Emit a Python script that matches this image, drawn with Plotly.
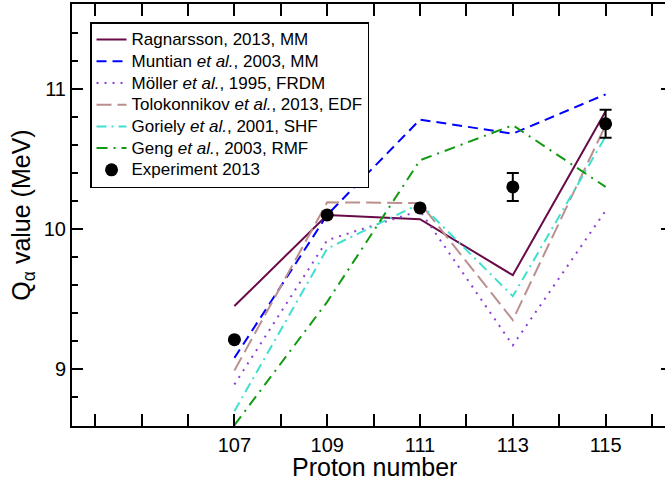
import plotly.graph_objects as go

protons = [107, 109, 111, 113, 115]
ragnarsson = [9.45, 10.10, 10.07, 9.67, 10.84]
muntian = [9.08, 10.10, 10.78, 10.68, 10.96]
moller = [8.89, 9.92, 10.13, 9.17, 10.13]
tolokonnikov = [8.99, 10.19, 10.185, 9.35, 10.74]
goriely = [8.70, 9.86, 10.18, 9.52, 10.66]
geng = [8.60, 9.48, 10.49, 10.74, 10.30]
experiment = [9.21, 10.10, 10.15, 10.30, 10.75]
experiment_err = [0, 0, 0, 0.10, 0.10]

x_major = [107, 109, 111, 113, 115]
x_minor = [104, 105, 106, 108, 110, 112, 114, 116]

FONT = "Arial, Liberation Sans, sans-serif"
LEG_SPAN = '<span style="font-size:17px">{}</span>'

series = [
    ("Ragnarsson, 2013, MM", ragnarsson, "#680a48", "solid"),
    ("Muntian <i>et al.</i>, 2003, MM", muntian, "#0000ff", "10px,6px"),
    ("Möller <i>et al.</i>, 1995, FRDM", moller, "#8a3fd8", "2px,6px"),
    ("Tolokonnikov <i>et al.</i>, 2013, EDF", tolokonnikov, "#bc8f8f", "15px,6px"),
    ("Goriely <i>et al.</i>, 2001, SHF", goriely, "#40e0d0", "10px,5px,2px,5px"),
    ("Geng <i>et al.</i>, 2003, RMF", geng, "#119911", "11px,6px,2px,6px"),
]

fig = go.Figure()
for name, vals, color, dash in series:
    fig.add_trace(go.Scatter(
        x=protons, y=vals, mode="lines", name=LEG_SPAN.format(name),
        line=dict(color=color, width=2, dash=dash),
    ))

fig.add_trace(go.Scatter(
    x=protons, y=experiment, mode="markers",
    name=LEG_SPAN.format("Experiment 2013"),
    marker=dict(color="black", size=13),
    error_y=dict(type="data", array=experiment_err, visible=True,
                 color="black", thickness=2, width=6),
))

# invisible trace for right-side ticks
fig.add_trace(go.Scatter(x=[None], y=[None], yaxis="y2", showlegend=False))

fig.update_layout(
    width=665, height=478,
    margin=dict(l=72, r=0, t=4, b=52),
    paper_bgcolor="white", plot_bgcolor="white",
    font=dict(family=FONT, color="black"),
    showlegend=True,
    legend=dict(
        x=0.0304, y=0.957, xanchor="left", yanchor="top",
        bgcolor="white", bordercolor="black", borderwidth=1.5,
        font=dict(size=14.4, family=FONT, color="black"),
    ),
    xaxis=dict(
        range=[103.5, 116.28],
        tickmode="array", tickvals=x_major,
        ticktext=[str(v) for v in x_major],
        ticks="inside", ticklen=12, tickwidth=1.5, tickcolor="black",
        minor=dict(tickmode="array", tickvals=x_minor, ticks="inside",
                   ticklen=6, tickwidth=1.5, tickcolor="black"),
        showline=True, linecolor="black", linewidth=2, mirror="allticks",
        showgrid=False, zeroline=False,
        tickfont=dict(size=20),
        automargin=False,
    ),
    yaxis=dict(
        range=[8.594, 11.605],
        tickmode="linear", tick0=9, dtick=1,
        ticks="inside", ticklen=11, tickwidth=1.5, tickcolor="black",
        minor=dict(dtick=0.2, ticks="inside", ticklen=6, tickwidth=1.5,
                   tickcolor="black"),
        showline=True, linecolor="black", linewidth=2, mirror=False,
        showgrid=False, zeroline=False,
        tickfont=dict(size=20),
        title=dict(text="Q<sub>α</sub> value (MeV)", font=dict(size=25), standoff=6),
        automargin=False,
    ),
    yaxis2=dict(
        range=[8.594, 11.605], overlaying="y", side="right",
        tickmode="array", tickvals=[9, 10, 11],
        ticks="inside", ticklen=4, tickwidth=1.5, tickcolor="black",
        showticklabels=False, showline=False, showgrid=False, zeroline=False,
    ),
    annotations=[dict(
        text="Proton number", xref="paper", yref="paper",
        x=0.51, y=-0.0964, xanchor="center", yanchor="middle",
        height=20, valign="middle",
        showarrow=False, font=dict(size=25, family=FONT, color="black"),
    )],
)

fig.write_html("out.html", config={"displayModeBar": False},
               post_script="document.body.style.margin='0';")
